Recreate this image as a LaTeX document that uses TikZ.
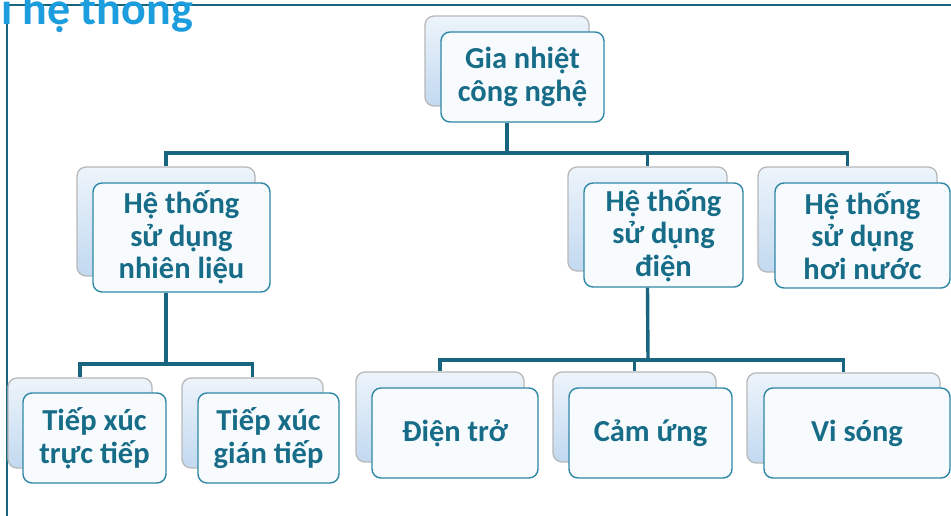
\documentclass[tikz,border=0pt]{standalone}
\usepackage{fontspec}
\setmainfont{Carlito}
\definecolor{tealline}{HTML}{17657F}
\definecolor{tealtext}{HTML}{176C88}
\definecolor{tealborder}{HTML}{2E87A4}
\definecolor{titleblue}{HTML}{1C9DDE}
\definecolor{backtop}{HTML}{EDF4FB}
\definecolor{backbot}{HTML}{C2D9F0}
\definecolor{backborder}{HTML}{B8B8B8}
\definecolor{frontfill}{HTML}{F8FBFE}
\begin{document}
\begin{tikzpicture}[x=1pt,y=-1pt,
  backbox/.style={draw=backborder, line width=1.3pt, rounded corners=9pt,
    top color=backtop, bottom color=backbot, inner sep=0pt},
  frontbox/.style={draw=tealborder, line width=1.4pt, rounded corners=9pt,
    fill=frontfill, inner sep=0pt, align=center, text=tealtext,
    font=\fontsize{30.5}{32.5}\selectfont\bfseries},
  conn/.style={draw=tealline, line width=3.4pt},
  frameline/.style={draw=tealline, line width=1.7pt}]
\useasboundingbox (0,0) rectangle (951,516);
\fill[white] (0,0) rectangle (951,516);

% page frame
\coordinate (fa) at (7,516);
\coordinate (fb) at (7,5);
\coordinate (fc) at (951,5);
\draw[frameline] (fa) -- (fb) -- (fc);

% heading
\node[anchor=base east, inner sep=0pt, text=titleblue,
  font=\fontsize{46}{46}\selectfont\bfseries] (title) at (193,25) {i hệ thống};

% box pairs: a shaded card behind, a white card in front
% level 0
\node[backbox, minimum width=164pt, minimum height=90pt] (b0) at (507,61) {};
\node[frontbox, minimum width=163pt, minimum height=90pt] (f0) at (522.5,77) {Gia nhiệt\\công nghệ};

% level 1
\node[backbox, minimum width=178pt, minimum height=109pt] (b1) at (166,221.5) {};
\node[frontbox, minimum width=177pt, minimum height=109pt] (f1) at (181.5,237.5) {Hệ thống\\sử dụng\\nhiên liệu};

\node[backbox, minimum width=159pt, minimum height=104pt] (b2) at (647.5,219) {};
\node[frontbox, minimum width=159pt, minimum height=104pt] (f2) at (663.5,235) {Hệ thống\\sử dụng\\điện};

\node[backbox, minimum width=179pt, minimum height=105pt] (b3) at (847.5,219.5) {};
\node[frontbox, minimum width=175pt, minimum height=105pt] (f3) at (862.5,235.5) {Hệ thống\\sử dụng\\hơi nước};

% level 2
\node[backbox, minimum width=144pt, minimum height=90pt] (b4) at (80,423) {};
\node[frontbox, minimum width=143pt, minimum height=90pt] (f4) at (94.5,438) {Tiếp xúc\\trực tiếp};

\node[backbox, minimum width=141pt, minimum height=90pt] (b5) at (252.5,423) {};
\node[frontbox, minimum width=141pt, minimum height=90pt] (f5) at (268.5,438) {Tiếp xúc\\gián tiếp};

\node[backbox, minimum width=168pt, minimum height=90pt] (b6) at (440,417) {};
\node[frontbox, minimum width=166pt, minimum height=90pt] (f6) at (455,433) {Điện trở};

\node[backbox, minimum width=163pt, minimum height=90pt] (b7) at (634.5,417) {};
\node[frontbox, minimum width=163pt, minimum height=90pt] (f7) at (650.5,433) {Cảm ứng};

\node[backbox, minimum width=193pt, minimum height=90pt] (b8) at (843.5,418) {};
\node[frontbox, minimum width=186pt, minimum height=90pt] (f8) at (857,433) {Vi sóng};

% bus lines
\coordinate (bus0) at (507,153);
\coordinate (bus1) at (166,364);
\coordinate (bus2) at (648,360);

\draw[conn] (b0.center |- f0.south) -- (b0.center |- bus0);
\draw[conn] (b1.north) -- (b1.north |- bus0) -- (b3.north |- bus0) -- (b3.north);
\draw[conn] (b2.north) -- (b2.north |- bus0);

\draw[conn] (b1.center |- f1.south) -- (bus1);
\draw[conn] (b4.north) -- (b4.north |- bus1) -- (b5.north |- bus1) -- (b5.north);

\draw[conn] (b2.center |- f2.south) -- (bus2);
\draw[conn] (b6.north) -- (b6.north |- bus2) -- (b8.north |- bus2) -- (b8.north);
\draw[conn] (b7.north) -- (b7.north |- bus2);
\end{tikzpicture}
\end{document}
